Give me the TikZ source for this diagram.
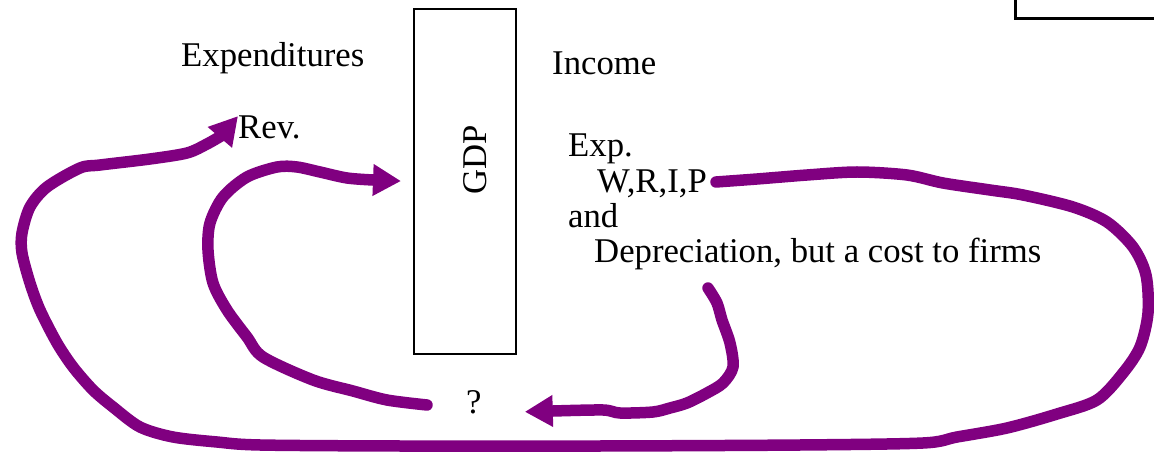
\documentclass[tikz,border=0pt]{standalone}
\usepackage{fontspec}
\setmainfont{Liberation Serif}
\usetikzlibrary{arrows.meta}
\definecolor{flowpurple}{HTML}{800080}
\begin{document}
\begin{tikzpicture}[x=1pt,y=-1pt,
  txt/.style={inner sep=0pt,anchor=base west,font=\fontsize{34.7}{40}\selectfont},
  frame/.style={draw,line width=2pt,inner sep=0pt},
  flow/.style={draw=flowpurple,line width=11.5pt,line cap=round,line join=round,
    -{Triangle[length=28pt,width=30pt]}}]
\useasboundingbox (0,0) rectangle (1154,454);
\clip (0,0) rectangle (1154,454);

% boxes
\node[frame,line width=2.5pt,minimum width=200pt,minimum height=60pt,anchor=south west] (panel) at (1014,20) {};
\node[frame,minimum width=102pt,minimum height=345pt] (gdp) at (465,181.5) {};
\node[txt,anchor=center,rotate=90] (gdptext) at (475,160) {GDP};

% labels
\node[txt] (expend) at (181,67) {Expenditures};
\node[txt] (income) at (552,75) {Income};
\node[txt] (rev) at (238,139) {Rev.};
\node[txt] (exp) at (568,157) {Exp.};
\node[txt] (wrip) at (597,193) {W,R,I,P};
\node[txt] (and) at (568,228) {and};
\node[txt] (dep) at (594,263) {Depreciation, but a cost to firms};
\node[txt] (q) at (466,413) {?};

% free ends of the strokes
\coordinate (outerstart) at (716,182);
\coordinate (innerstart) at (427,405);
\coordinate (depstart) at (708,288);

% outer loop: incomes back round to revenue
\draw[flow] plot[smooth,tension=0.5] coordinates {(outerstart) (757,179) (807,175) (857,172)
  (907,175) (943,183) (990,190) (1023,195) (1073,207) (1107,222) (1133,247) (1146,275)
  (1148,313) (1140,347) (1123,373) (1097,400) (1057,414) (1007,428) (957,437) (923,443)
  (800,445) (600,446) (400,446) (260,445) (217,442) (173,437) (140,427) (113,407)
  (93,390) (73,367) (57,343) (40,310) (30,283) (22,253) (22,233) (30,207) (47,187)
  (80,168) (100,165) (150,159) (187,153) (207,144) (221,136)} -- (rev.north west);

% inner loop: from ? back into GDP
\draw[flow,shorten >=12pt] plot[smooth,tension=0.5] coordinates {(innerstart) (387,400)
  (353,391) (313,380) (263,357) (247,337) (227,310) (213,283) (208,250) (210,223)
  (223,197) (247,177) (277,167) (297,167) (320,172) (347,178) (373,180)} -- (gdp.west);

% depreciation down to ?
\draw[flow,shorten >=43pt] plot[smooth,tension=0.5] coordinates {(depstart) (717,303)
  (722,320) (730,343) (733,367) (723,383) (707,393) (687,403) (670,408) (653,412)
  (620,413) (603,410) (553,411)} -- (q.base east);
\end{tikzpicture}
\end{document}
